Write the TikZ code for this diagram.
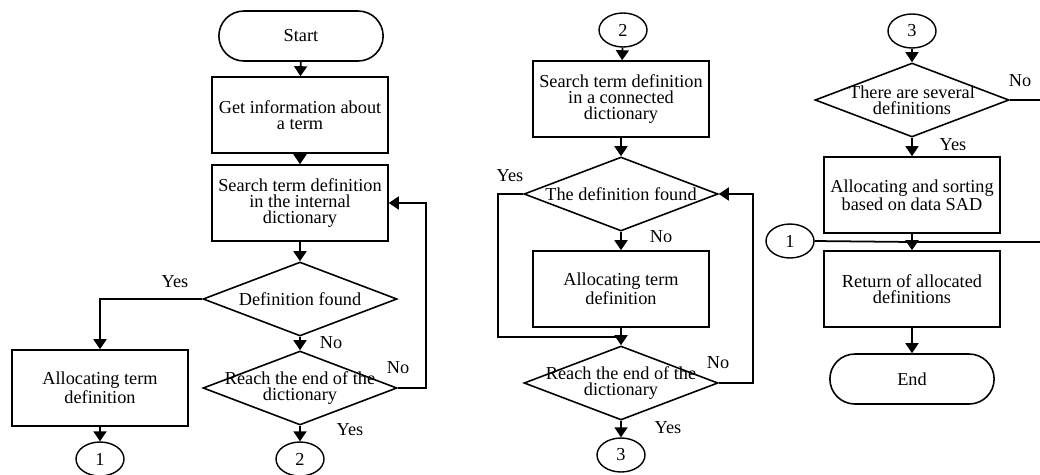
\documentclass[tikz,border=0pt]{standalone}
\usepackage{fontspec}
\setmainfont{Liberation Serif}
\usetikzlibrary{shapes.geometric,shapes.misc,arrows.meta}

\begin{document}
\begin{tikzpicture}[x=0.02cm,y=-0.02cm,
    every node/.style={font=\fontsize{10.4}{9.1}\selectfont},
    proc/.style={draw,line width=0.9pt,minimum width=3.52cm,minimum height=1.52cm,align=center,inner sep=1pt},
    term/.style={draw,rounded rectangle,line width=0.9pt,minimum width=3.52cm,minimum height=1cm},
    decide/.style={draw,diamond,line width=0.9pt,minimum width=3.88cm,minimum height=1.48cm,inner sep=0pt},
    conn/.style={draw,ellipse,line width=0.8pt,minimum width=0.96cm,minimum height=0.68cm,inner sep=0pt},
    arr/.style={-{Triangle[length=0.2cm,width=0.26cm]},line width=1pt},
    lnk/.style={line width=1pt}]
  \useasboundingbox (0,0) rectangle (1040,474);

  % first column
  \node[term] (start) at (301,36) {Start};
  \node[proc] (info) at (300,115) {Get information about\\a term};
  \node[proc] (srch1) at (300,203) {Search term definition\\in the internal\\dictionary};
  \node[decide,label={[align=center]center:Definition found}] (found1) at (300,299) {};
  \node[proc] (alloc1) at (100,388) {Allocating term\\definition};
  \node[decide,label={[align=center]center:Reach the end of the\\dictionary}] (end1) at (300,388) {};
  \node[conn] (c1a) at (100,459) {1};
  \node[conn] (c2a) at (300,459) {2};
  \draw[arr] (start) -- (info);
  \draw[arr] (info) -- (srch1);
  \draw[arr] (srch1) -- (found1);
  \draw[arr] (found1.west) -| (alloc1.north);
  \draw[arr] (found1) -- (end1);
  \draw[arr] (end1.east) -- ++(28,0) |- (srch1.east);
  \draw[arr] (alloc1) -- (c1a);
  \draw[arr] (end1) -- (c2a);
  \node (y1) at (175,282) {Yes};
  \node (n1) at (331,343) {No};
  \node (n2) at (398,368) {No};
  \node (y2) at (350,430) {Yes};

  % second column
  \node[conn] (c2b) at (623,30) {2};
  \node[proc] (srch2) at (621,99) {Search term definition\\in a connected\\dictionary};
  \node[decide,label={[align=center]center:The definition found}] (found2) at (621,194) {};
  \node[proc] (alloc2) at (621,289) {Allocating term\\definition};
  \node[decide,label={[align=center]center:Reach the end of the\\dictionary}] (end2) at (621,383) {};
  \node[conn] (c3a) at (621,455) {3};
  \coordinate (j2) at (621,337);
  \draw[arr] (c2b) -- (srch2);
  \draw[arr] (srch2) -- (found2);
  \draw[arr] (found2) -- (alloc2);
  \draw[lnk] (found2.west) -- ++(-25,0) |- (j2);
  \draw[arr] (alloc2) -- (end2);
  \draw[arr] (end2.east) -- ++(34,0) |- (found2.east);
  \draw[arr] (end2) -- (c3a);
  \node (y3) at (510,176) {Yes};
  \node (n3) at (661,237) {No};
  \node (n4) at (718,363) {No};
  \node (y4) at (668,428) {Yes};

  % third column
  \node[conn] (c3b) at (912,31) {3};
  \node[decide,label={[align=center]center:There are several\\definitions}] (several) at (912,100) {};
  \node[proc] (sortbox) at (912,195) {Allocating and sorting\\based on data SAD};
  \node[conn] (c1b) at (790,241) {1};
  \node[proc] (ret) at (912,289) {Return of allocated\\definitions};
  \node[term] (fin) at (912,379) {End};
  \coordinate (j3) at (912,242);
  \draw[arr] (c3b) -- (several);
  \draw[arr] (several) -- (sortbox);
  \draw[arr] (sortbox) -- (ret);
  \draw[lnk] (c1b.east) -- (j3);
  \draw[lnk] (several.east) -- ++(40,0) |- (j3);
  \draw[arr] (ret) -- (fin);
  \node (n5) at (1020,81) {No};
  \node (y5) at (953,145) {Yes};
\end{tikzpicture}
\end{document}
